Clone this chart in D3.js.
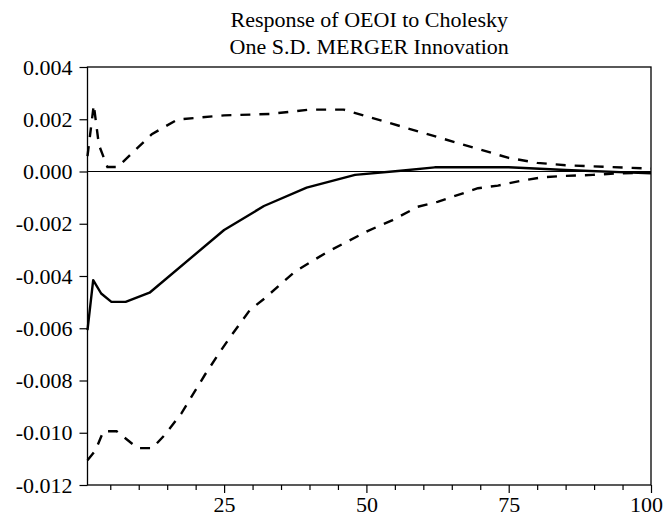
<!DOCTYPE html>
<html><head><meta charset="utf-8">
<script src="https://cdn.jsdelivr.net/npm/d3@7"></script>
<style>
body{margin:0;background:#fff}
svg{display:block}
svg text{font-family:"Liberation Serif","Times New Roman",serif !important;fill:#000}
</style>
</head><body>
<svg id="chart" width="666" height="518"></svg>
<script>
const titleLines = ["Response of OEOI to Cholesky", "One S.D. MERGER Innovation"];
const yTicks = [0.004, 0.002, 0, -0.002, -0.004, -0.006, -0.008, -0.010, -0.012];
const yTickLabels = ["0.004", "0.002", "0.000", "-0.002", "-0.004", "-0.006", "-0.008", "-0.010", "-0.012"];
const xMajorTicks = [25, 50, 75, 100];
const xTickLabels = ["25", "50", "75", "100"];
const xMinorTicks = [5, 10, 15, 20, 30, 35, 40, 45, 55, 60, 65, 70, 80, 85, 90, 95];

const responsePeriods = [1, 2, 3.4, 5.2, 7.7, 11.9, 25, 32, 39.5, 48, 56, 62, 75, 85, 100];
const responseValues = [-0.00607, -0.00416, -0.00467, -0.00499, -0.00499, -0.00464, -0.00224, -0.00132, -0.00062, -0.00013, 0.00003, 0.00016, 0.00016, 0.00006, -0.00007];

const upperPeriods = [1, 2.1, 3, 4.5, 6.3, 12.3, 16.8, 25, 33, 40, 46, 75, 80, 85, 100];
const upperValues = [0.00059, 0.00255, 0.00102, 0.00017, 0.00017, 0.00143, 0.00199, 0.00215, 0.0022, 0.00237, 0.00237, 0.00052, 0.00033, 0.00024, 0.00011];

const lowerPeriods = [1, 2.4, 3.8, 6.1, 9.8, 12.4, 14.5, 17.5, 21.6, 24.1, 26.1, 29.5, 32.1, 37.4, 43.2, 50.2, 54.6, 59, 62.5, 69.6, 73.1, 77.3, 81, 84.9, 89.8, 94.5, 100];
const lowerValues = [-0.01105, -0.01067, -0.00994, -0.00994, -0.01059, -0.01059, -0.0101, -0.00926, -0.00779, -0.00696, -0.00633, -0.00531, -0.00486, -0.00384, -0.00307, -0.00228, -0.00186, -0.00135, -0.00116, -0.00064, -0.00054, -0.00035, -0.00022, -0.00017, -0.00013, -0.00007, -0.00004];

const FONT = "'Liberation Serif', 'Times New Roman', serif";
const svg = d3.select("#chart");
const L = 87.5, R = 651, T = 67, B = 485;
const x = d3.scaleLinear().domain([1, 100]).range([L, R]);
const y = d3.scaleLinear().domain([-0.012, 0.004]).range([B, T]);

// title
svg.selectAll("text.title").data(titleLines).enter().append("text")
  .attr("class", "title")
  .attr("x", (L + R) / 2).attr("y", (d, i) => 27 + i * 27)
  .attr("text-anchor", "middle").style("font-size", "22px").style("font-family", FONT).text(d => d);

// y axis
const yAxis = d3.axisLeft(y).tickValues(yTicks)
  .tickFormat((d, i) => yTickLabels[i]).tickSize(8).tickSizeOuter(0).tickPadding(7);
const gy = svg.append("g").attr("transform", `translate(${L},0)`).call(yAxis)
  .attr("font-family", FONT).attr("font-size", 22);
gy.select(".domain").remove();
gy.selectAll("line").attr("stroke", "#000").attr("stroke-width", 1.2);
gy.selectAll("text").style("font-size", "22px").style("font-family", FONT);

// x axis minor & major
const gxMinor = svg.append("g").attr("transform", `translate(0,${B})`)
  .call(d3.axisBottom(x).tickValues(xMinorTicks).tickFormat("").tickSize(5).tickSizeOuter(0));
gxMinor.select(".domain").remove();
gxMinor.selectAll("line").attr("stroke", "#000").attr("stroke-width", 1.2);
const gx = svg.append("g").attr("transform", `translate(0,${B})`)
  .call(d3.axisBottom(x).tickValues(xMajorTicks).tickFormat((d, i) => xTickLabels[i]).tickSize(8).tickSizeOuter(0).tickPadding(3))
  .attr("font-family", FONT).attr("font-size", 22);
gx.select(".domain").remove();
gx.selectAll("line").attr("stroke", "#000").attr("stroke-width", 1.2);
gx.selectAll("text").style("font-size", "22px").style("font-family", FONT)
  .attr("dx", d => d === 100 ? -5 : 0);

// zero line
svg.append("line").attr("x1", L).attr("x2", R).attr("y1", y(0)).attr("y2", y(0))
  .attr("stroke", "#000").attr("stroke-width", 1);

const line = d3.line().x(d => x(d[0])).y(d => y(d[1]));
const zip = (a, b) => a.map((p, i) => [p, b[i]]);

svg.append("path").datum(zip(upperPeriods, upperValues)).attr("d", line)
  .attr("fill", "none").attr("stroke", "#000").attr("stroke-width", 2.4).attr("stroke-dasharray", "10,9");
svg.append("path").datum(zip(lowerPeriods, lowerValues)).attr("d", line)
  .attr("fill", "none").attr("stroke", "#000").attr("stroke-width", 2.4).attr("stroke-dasharray", "10,9");
svg.append("path").datum(zip(responsePeriods, responseValues)).attr("d", line)
  .attr("fill", "none").attr("stroke", "#000").attr("stroke-width", 2.4).attr("stroke-linejoin", "round");

// frame
svg.append("rect").attr("x", L).attr("y", T).attr("width", R - L).attr("height", B - T)
  .attr("fill", "none").attr("stroke", "#000").attr("stroke-width", 1.3);
</script>
</body></html>
